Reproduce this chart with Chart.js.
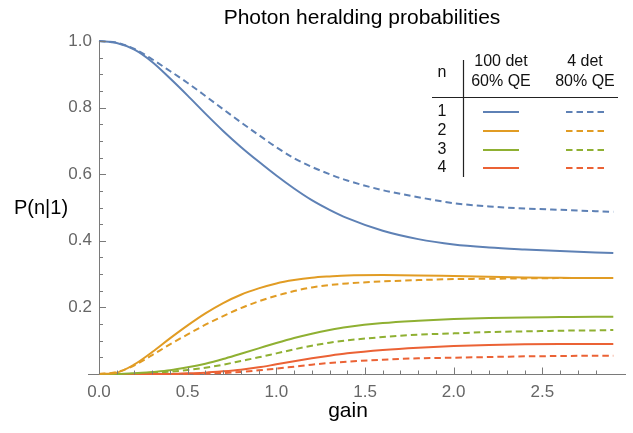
<!DOCTYPE html>
<html>
<head>
<meta charset="utf-8">
<script src="https://cdn.jsdelivr.net/npm/chart.js@4.4.1/dist/chart.umd.min.js"></script>
<style>
  html, body { margin: 0; padding: 0; background: #fff; }
  #wrap { width: 633px; height: 433px; }
</style>
</head>
<body>
<div id="wrap"><canvas id="heraldChart"></canvas></div>
<script>
/* Photon heralding probabilities P(n|1) vs gain */

const gainValues = [0, 0.1, 0.2, 0.3, 0.4, 0.5, 0.6, 0.7, 0.8, 0.9, 1.0, 1.1, 1.2, 1.3, 1.4, 1.6, 1.8, 2.0, 2.2, 2.4, 2.6, 2.8, 2.9];

// 100 detectors, 60% QE (solid)
const hundredDetN1 = [1.0, 0.994, 0.974, 0.937, 0.888, 0.836, 0.782, 0.73, 0.682, 0.638, 0.596, 0.557, 0.522, 0.493, 0.468, 0.43, 0.405, 0.389, 0.38, 0.374, 0.369, 0.365, 0.363];
const hundredDetN2 = [0, 0.004, 0.029, 0.066, 0.107, 0.146, 0.182, 0.213, 0.238, 0.257, 0.272, 0.282, 0.289, 0.293, 0.296, 0.297, 0.296, 0.294, 0.292, 0.29, 0.289, 0.288, 0.288];
const hundredDetN3 = [0, 0, 0.002, 0.006, 0.011, 0.02, 0.031, 0.045, 0.061, 0.077, 0.093, 0.108, 0.121, 0.132, 0.141, 0.153, 0.16, 0.165, 0.168, 0.17, 0.171, 0.172, 0.172];
const hundredDetN4 = [0, 0, 0, 0, 0, 0.002, 0.004, 0.008, 0.013, 0.02, 0.029, 0.038, 0.047, 0.055, 0.062, 0.072, 0.079, 0.084, 0.087, 0.089, 0.09, 0.09, 0.09];

// 4 detectors, 80% QE (dashed)
const fourDetN1 = [1.0, 0.995, 0.976, 0.945, 0.91, 0.874, 0.835, 0.795, 0.756, 0.718, 0.681, 0.648, 0.622, 0.6, 0.581, 0.552, 0.531, 0.513, 0.503, 0.497, 0.493, 0.489, 0.487];
const fourDetN2 = [0, 0.006, 0.026, 0.057, 0.089, 0.119, 0.148, 0.174, 0.198, 0.218, 0.235, 0.249, 0.26, 0.267, 0.272, 0.278, 0.282, 0.285, 0.286, 0.287, 0.288, 0.288, 0.288];
const fourDetN3 = [0, 0, 0.001, 0.003, 0.007, 0.012, 0.019, 0.028, 0.039, 0.05, 0.062, 0.074, 0.085, 0.094, 0.101, 0.111, 0.118, 0.122, 0.126, 0.128, 0.13, 0.131, 0.132];
const fourDetN4 = [0, 0, 0, 0, 0, 0, 0.001, 0.003, 0.006, 0.011, 0.016, 0.022, 0.028, 0.033, 0.037, 0.043, 0.047, 0.049, 0.051, 0.053, 0.054, 0.055, 0.055];

const photonNumbers = ["1", "2", "3", "4"];
const seriesColors = ["#5e81b5", "#e19c24", "#8fb032", "#eb6235"];
const dashPattern = [6.5, 4];
const axisColor = "#7a7a7a";
const labelColor = "#666666";
const fontFamily = "'Liberation Sans', Arial, Helvetica, sans-serif";

const solidSeries = [hundredDetN1, hundredDetN2, hundredDetN3, hundredDetN4];
const dashedSeries = [fourDetN1, fourDetN2, fourDetN3, fourDetN4];

function toPoints(values) {
  return values.map((v, i) => ({ x: gainValues[i], y: v }));
}

const datasets = [];
solidSeries.forEach((values, i) => {
  datasets.push({ label: "100 det n=" + photonNumbers[i], data: toPoints(values), borderColor: seriesColors[i], borderDash: [] });
});
dashedSeries.forEach((values, i) => {
  datasets.push({ label: "4 det n=" + photonNumbers[i], data: toPoints(values), borderColor: seriesColors[i], borderDash: dashPattern });
});
datasets.forEach((ds) => {
  ds.borderWidth = 2;
  ds.pointRadius = 0;
  ds.fill = false;
  ds.cubicInterpolationMode = "monotone";
  ds.clip = false;
});

// inward tick marks + the little axis stub left of the origin, Mathematica style
const inwardTicks = {
  id: "inwardTicks",
  afterDraw(chart) {
    const { ctx, scales: { x, y } } = chart;
    const x0 = x.getPixelForValue(0);
    const y0 = Math.round(y.getPixelForValue(0)) + 0.5;
    ctx.save();
    ctx.strokeStyle = axisColor;
    ctx.lineWidth = 1;
    ctx.beginPath();
    ctx.moveTo(x0 - 11, y0);
    ctx.lineTo(x0, y0);
    x.ticks.forEach((t) => {
      const tenth = Math.round(t.value * 10);
      if (tenth < 0 || Math.abs(t.value * 10 - tenth) > 1e-6) return;
      const len = tenth % 5 === 0 ? 7 : 4;
      const px = Math.round(x.getPixelForValue(t.value)) + 0.5;
      ctx.moveTo(px, y0);
      ctx.lineTo(px, y0 - len);
    });
    y.ticks.forEach((t) => {
      const twentieth = Math.round(t.value * 20);
      if (twentieth <= 0 || Math.abs(t.value * 20 - twentieth) > 1e-6) return;
      const len = twentieth % 4 === 0 ? 7 : 4;
      const py = Math.round(y.getPixelForValue(t.value)) + 0.5;
      ctx.moveTo(x0, py);
      ctx.lineTo(x0 + len, py);
    });
    ctx.stroke();
    ctx.restore();
  },
};

// title, axis labels and the legend table
const annotations = {
  id: "annotations",
  afterDraw(chart) {
    const ctx = chart.ctx;
    ctx.save();
    ctx.fillStyle = "#000";
    ctx.textBaseline = "middle";
    ctx.textAlign = "center";
    ctx.font = "21px " + fontFamily;
    ctx.fillText("Photon heralding probabilities", 362, 18);
    ctx.font = "21px " + fontFamily;
    ctx.fillText("gain", 348, 411);
    ctx.textAlign = "left";
    ctx.font = "20px " + fontFamily;
    ctx.fillText("P(n|1)", 14, 208);

    // legend table
    ctx.font = "16px " + fontFamily;
    ctx.fillStyle = "#111";
    ctx.textAlign = "center";
    ctx.fillText("n", 442, 73);
    ctx.fillText("100 det", 501, 62);
    ctx.fillText("60% QE", 501, 82);
    ctx.fillText("4 det", 585, 62);
    ctx.fillText("80% QE", 585, 82);
    const rowY = [112, 131, 150, 168];
    photonNumbers.forEach((n, i) => ctx.fillText(n, 442, rowY[i]));

    ctx.strokeStyle = "#222";
    ctx.lineWidth = 1.2;
    ctx.beginPath();
    ctx.moveTo(463.5, 60);
    ctx.lineTo(463.5, 177);
    ctx.moveTo(432, 97.5);
    ctx.lineTo(618, 97.5);
    ctx.stroke();

    ctx.lineWidth = 2;
    rowY.forEach((ry, i) => {
      const solid = chart.data.datasets[i];
      const dashed = chart.data.datasets[i + 4];
      ctx.strokeStyle = solid.borderColor;
      ctx.setLineDash([]);
      ctx.beginPath();
      ctx.moveTo(483, ry);
      ctx.lineTo(519, ry);
      ctx.stroke();
      ctx.strokeStyle = dashed.borderColor;
      ctx.setLineDash(dashed.borderDash);
      ctx.beginPath();
      ctx.moveTo(566, ry);
      ctx.lineTo(604, ry);
      ctx.stroke();
    });
    ctx.restore();
  },
};

new Chart(document.getElementById("heraldChart"), {
  type: "line",
  data: { datasets },
  options: {
    responsive: true,
    maintainAspectRatio: false,
    animation: false,
    layout: { padding: { left: 0, right: 6, top: 41, bottom: 0 } },
    plugins: { legend: { display: false }, tooltip: { enabled: false }, title: { display: false } },
    scales: {
      x: {
        type: "linear",
        min: 0,
        max: 2.966,
        position: "bottom",
        afterFit: (s) => { s.height = 59; },
        grid: { display: false, drawTicks: false },
        border: { display: true, color: axisColor, width: 1 },
        ticks: {
          stepSize: 0.1,
          autoSkip: false,
          maxRotation: 0,
          padding: 8,
          color: labelColor,
          font: { family: fontFamily, size: 17 },
          callback: (v) => {
            const half = Math.round(v * 2);
            return v > -0.001 && Math.abs(v * 2 - half) < 1e-6 ? Number(v).toFixed(1) : "";
          },
        },
      },
      y: {
        type: "linear",
        min: 0,
        max: 1.0,
        position: "left",
        afterFit: (s) => { s.width = 99; },
        grid: { display: false, drawTicks: false },
        border: { display: true, color: axisColor, width: 1 },
        ticks: {
          stepSize: 0.05,
          autoSkip: false,
          padding: 7,
          color: labelColor,
          font: { family: fontFamily, size: 17 },
          callback: (v) => {
            const fifth = Math.round(v * 5);
            return v > 0.01 && Math.abs(v * 5 - fifth) < 1e-6 ? Number(v).toFixed(1) : "";
          },
        },
      },
    },
  },
  plugins: [inwardTicks, annotations],
});
</script>
</body>
</html>
